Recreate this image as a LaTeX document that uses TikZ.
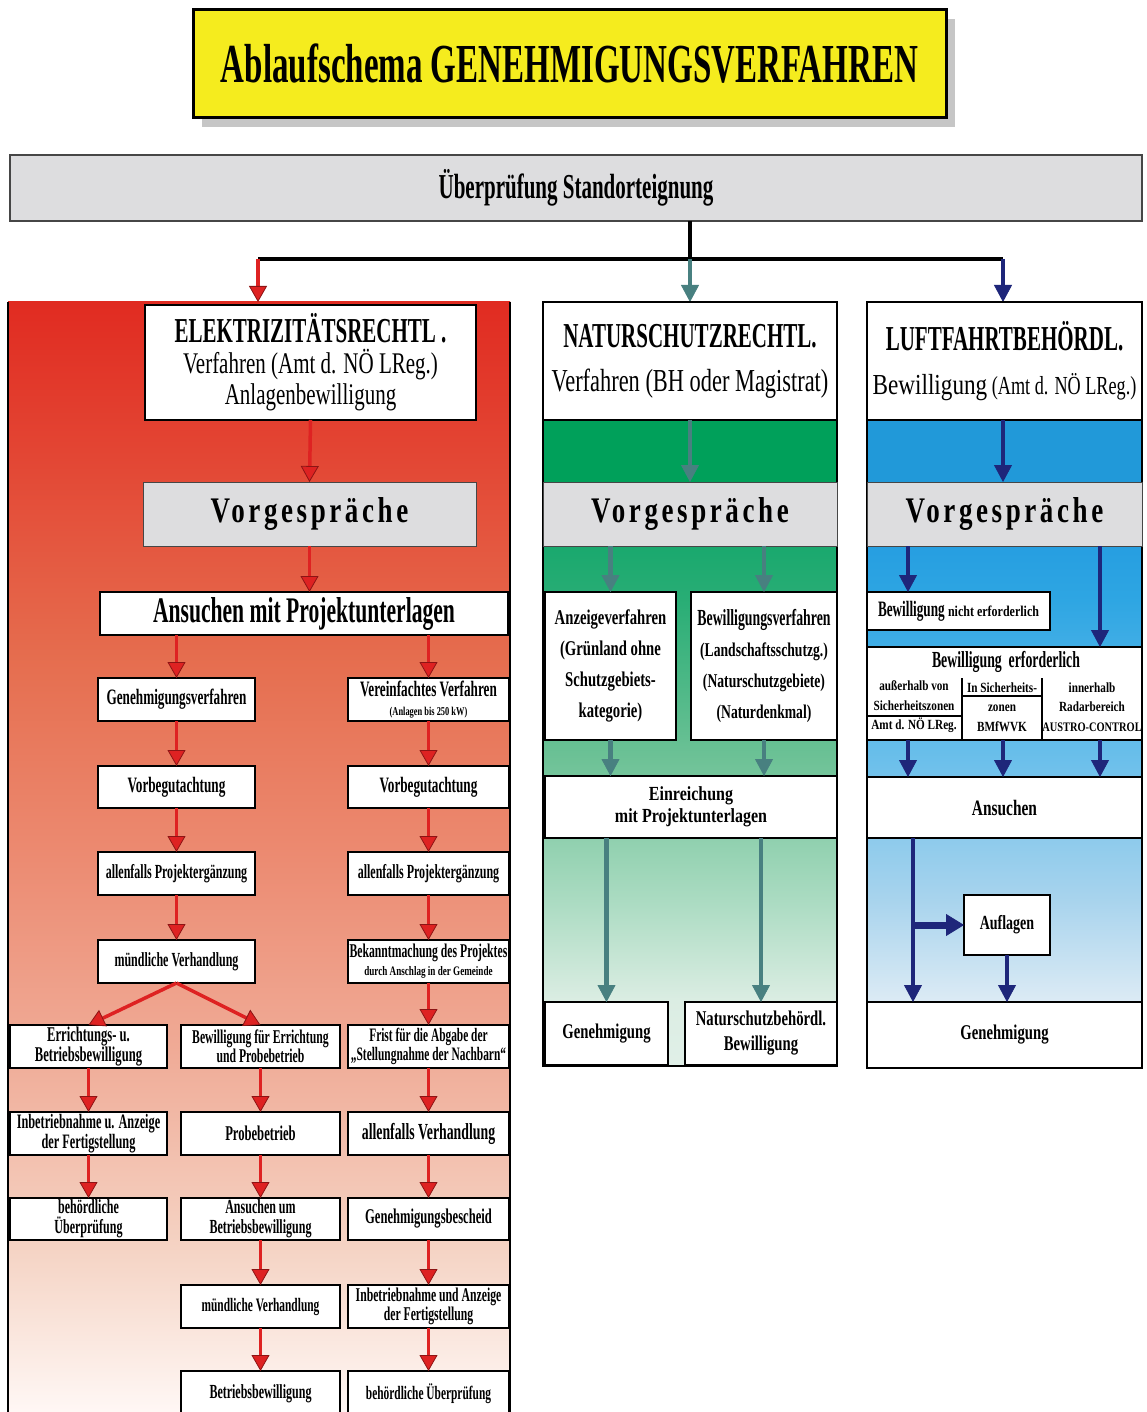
\documentclass[tikz,border=0pt]{standalone}
\usepackage{fontspec}
\setmainfont{Liberation Serif}[FakeStretch=0.6]
\newfontfamily\mf{Liberation Serif}[FakeStretch=0.7]
\newfontfamily\wf{Liberation Serif}[FakeStretch=0.8]
\newfontfamily\vfont{Liberation Serif}[FakeStretch=0.75,LetterSpace=10]
\usetikzlibrary{arrows.meta}
\definecolor{ttl}{RGB}{245,236,30}
\definecolor{graybox}{RGB}{221,221,223}
\definecolor{arrR}{RGB}{222,34,34}
\definecolor{arrRd}{RGB}{140,20,20}
\definecolor{arrT}{RGB}{72,128,128}
\definecolor{arrB}{RGB}{30,38,122}
\definecolor{grband}{RGB}{0,160,90}
\definecolor{blband}{RGB}{33,153,217}
\pgfdeclareverticalshading{redsh}{100bp}{rgb(0bp)=(1,0.97,0.96); rgb(25bp)=(1,0.97,0.96); rgb(32.3bp)=(0.96,0.83,0.77); rgb(41.3bp)=(0.94,0.67,0.59); rgb(50.3bp)=(0.925,0.54,0.44); rgb(58.85bp)=(0.9,0.43,0.31); rgb(68.35bp)=(0.89,0.27,0.2); rgb(75bp)=(0.88,0.17,0.13); rgb(100bp)=(0.88,0.17,0.13)}
\pgfdeclareverticalshading{grsh}{100bp}{rgb(0bp)=(0.88,0.94,0.91); rgb(25bp)=(0.88,0.94,0.91); rgb(31.25bp)=(0.86,0.93,0.89); rgb(40.9bp)=(0.67,0.86,0.76); rgb(54.4bp)=(0.43,0.76,0.59); rgb(69.8bp)=(0.16,0.68,0.46); rgb(75bp)=(0.1,0.66,0.43); rgb(100bp)=(0.1,0.66,0.43)}
\pgfdeclareverticalshading{blsh}{100bp}{rgb(0bp)=(0.9,0.94,0.97); rgb(25bp)=(0.9,0.94,0.97); rgb(31.5bp)=(0.86,0.92,0.96); rgb(41.1bp)=(0.66,0.83,0.93); rgb(54.5bp)=(0.42,0.75,0.92); rgb(69.85bp)=(0.18,0.65,0.89); rgb(75bp)=(0.15,0.62,0.88); rgb(100bp)=(0.15,0.62,0.88)}
\newcommand\fs[2]{\fontsize{#1}{#2}\selectfont}
\newcommand\bx[7][box]{\node[#1,minimum width={#5-#3},minimum height={#6-#4}] (#2) at ({(#3+#5)/2},{(#4+#6)/2}) {#7};}
\tikzset{
  box/.style={draw=black,line width=2.5pt,fill=white,inner sep=0pt,outer sep=0pt,align=center,font=\bfseries},
  sbx/.style={box,line width=2pt},
  tbox/.style={box,line width=3pt,fill=ttl},
  sbox/.style={box,line width=1.5pt,draw=gray!55!black,fill=graybox},
  gbox/.style={box,line width=1pt,draw=gray!55!black,fill=graybox,font=\vfont\bfseries\fs{36}{40}},
  rar/.style={draw=arrR,line width=3.5pt,-{Triangle[width=18pt,length=16pt,fill=arrR,color=arrRd,line width=0.8pt]}},
  tar/.style={draw=arrT,line width=4.5pt,-{Triangle[width=18pt,length=17pt,fill=arrT,line width=0.8pt]}},
  bar/.style={draw=arrB,line width=4.5pt,-{Triangle[width=18pt,length=17pt,fill=arrB,line width=0.8pt]}},
  barb/.style={draw=arrB,line width=7pt,-{Triangle[width=22pt,length=18pt,fill=arrB,line width=0.8pt]}},
  sub/.style={inner sep=0pt,align=center,font=\wf\bfseries\fs{14}{19.5}},
}
\begin{document}
\begin{tikzpicture}[x=1pt,y=-1pt]
\useasboundingbox (0,0) rectangle (1147,1412);
\fill[white] (0,0) rectangle (1147,1412);
% title
\fill[gray!45] (202,19) rectangle (955,127);
\bx[tbox,font=\bfseries\fs{55}{60}]{title}{193}{10}{946}{118}{Ablaufschema GENEHMIGUNGSVERFAHREN}
\bx[sbox,font=\bfseries\fs{35}{40}]{std}{10}{155}{1142}{221}{Überprüfung Standorteignung}
% backgrounds
\fill[shading=redsh] (8,302) rectangle (510,1412);
\draw[line width=1.5pt] (8,302) -- (8,1412);
\draw[line width=1.5pt] (510,302) -- (510,1412);
\fill[grband] (543,420) rectangle (837,482);
\fill[shading=grsh] (543,546) rectangle (837,1066);
\draw[line width=1.5pt] (543,302) rectangle (837,1066);
\fill[blband] (867,420) rectangle (1142,482);
\fill[shading=blsh] (867,546) rectangle (1142,1068);
\draw[line width=1.5pt] (867,302) rectangle (1142,1068);
% top connectors
\coordinate (jc) at (690,259);
\coordinate (jl) at (258,259);
\coordinate (jr) at (1003,259);
\coordinate (tl) at (258,302);
\coordinate (tm) at (690,302);
\coordinate (tr) at (1003,302);
\draw[line width=4pt] (std.south -| jc) -- (jc);
\draw[line width=4pt] (jl) -- (jr);
\draw[rar] (jl) -- (tl);
\draw[tar] (jc) -- (tm);
\draw[bar] (jr) -- (tr);
% ---------------- left column
\bx[box,font=\mf\mdseries\fs{30}{31}]{elek}{145}{305}{476}{420}{{\rmfamily\bfseries\fs{35}{31}ELEKTRIZITÄTSRECHTL .}\\Verfahren (Amt d. NÖ LReg.)\\Anlagenbewilligung}
\bx[gbox]{vg1}{143}{482}{476}{546}{Vorgespräche}
\bx[box,font=\bfseries\fs{36}{38}]{ans1}{100}{592}{508}{635}{Ansuchen mit Projektunterlagen}
\bx[sbx,font=\bfseries\fs{22}{24}]{gv}{98}{678}{255}{721}{Genehmigungsverfahren}
\bx[sbx,font=\bfseries\fs{22}{24}]{vb1}{98}{766}{255}{808}{Vorbegutachtung}
\bx[sbx,font=\bfseries\fs{20}{22}]{pe1}{98}{852}{255}{895}{allenfalls Projektergänzung}
\bx[sbx,font=\bfseries\fs{20}{22}]{mv1}{98}{940}{255}{983}{mündliche Verhandlung}
\bx[sbx,font=\bfseries\fs{22}{19}]{vv}{348}{678}{509}{721}{Vereinfachtes Verfahren\\{\mf\fs{12}{12}(Anlagen bis 250 kW)}}
\bx[sbx,font=\bfseries\fs{22}{24}]{vb2}{348}{766}{509}{808}{Vorbegutachtung}
\bx[sbx,font=\bfseries\fs{20}{22}]{pe2}{348}{852}{509}{895}{allenfalls Projektergänzung}
\bx[sbx,font=\bfseries\fs{19.5}{18}]{bk}{348}{940}{509}{983}{Bekanntmachung des Projektes\\{\mf\fs{13}{15}durch Anschlag in der Gemeinde}}
\bx[sbx,font=\bfseries\fs{19}{19}]{fr}{348}{1025}{509}{1068}{Frist für die Abgabe der\\„Stellungnahme der Nachbarn“}
\bx[sbx,font=\bfseries\fs{23}{24}]{av}{348}{1112}{509}{1155}{allenfalls Verhandlung}
\bx[sbx,font=\bfseries\fs{21}{22}]{gb}{348}{1198}{509}{1240}{Genehmigungsbescheid}
\bx[sbx,font=\bfseries\fs{19.5}{19}]{inb}{348}{1285}{509}{1328}{Inbetriebnahme und Anzeige\\der Fertigstellung}
\bx[sbx,font=\bfseries\fs{19}{20}]{bu2}{348}{1371}{509}{1416}{behördliche Überprüfung}
\bx[sbx,font=\bfseries\fs{21}{20}]{ebw}{10}{1025}{167}{1068}{Errichtungs- u.\\Betriebsbewilligung}
\bx[sbx,font=\bfseries\fs{20.5}{20}]{ina}{10}{1112}{167}{1155}{Inbetriebnahme u. Anzeige\\der Fertigstellung}
\bx[sbx,font=\bfseries\fs{20}{20}]{bu1}{10}{1198}{167}{1240}{behördliche\\Überprüfung}
\bx[sbx,font=\bfseries\fs{19.5}{19}]{bew}{181}{1025}{340}{1068}{Bewilligung für Errichtung\\und Probebetrieb}
\bx[sbx,font=\bfseries\fs{21}{22}]{pb}{181}{1112}{340}{1155}{Probebetrieb}
\bx[sbx,font=\bfseries\fs{20}{20}]{asb}{181}{1198}{340}{1240}{Ansuchen um\\Betriebsbewilligung}
\bx[sbx,font=\bfseries\fs{19}{20}]{mv2}{181}{1285}{340}{1328}{mündliche Verhandlung}
\bx[sbx,font=\bfseries\fs{20}{22}]{bb}{181}{1371}{340}{1416}{Betriebsbewilligung}
\draw[rar] (elek.south) -- (vg1.north);
\draw[rar] (vg1.south) -- (ans1.north -| vg1);
\draw[rar] (ans1.south -| gv) -- (gv.north);
\draw[rar] (ans1.south -| vv) -- (vv.north);
\draw[rar] (gv) -- (vb1.north);
\draw[rar] (vb1.south) -- (pe1.north);
\draw[rar] (pe1.south) -- (mv1.north);
\draw[rar] (mv1.south) -- (ebw.north);
\draw[rar] (mv1.south) -- (bew.north);
\draw[rar] (vv.south) -- (vb2.north);
\draw[rar] (vb2.south) -- (pe2.north);
\draw[rar] (pe2.south) -- (bk.north);
\draw[rar] (bk.south) -- (fr.north);
\draw[rar] (fr.south) -- (av.north);
\draw[rar] (av.south) -- (gb.north);
\draw[rar] (gb.south) -- (inb.north);
\draw[rar] (inb.south) -- (bu2.north);
\draw[rar] (ebw.south) -- (ina.north);
\draw[rar] (ina.south) -- (bu1.north);
\draw[rar] (bew.south) -- (pb.north);
\draw[rar] (pb.south) -- (asb.north);
\draw[rar] (asb.south) -- (mv2.north);
\draw[rar] (mv2.south) -- (bb.north);
% ---------------- middle column
\bx[box,font=\mf\mdseries\fs{32}{44}]{nat}{543}{302}{837}{420}{{\rmfamily\bfseries\fs{35}{44}NATURSCHUTZRECHTL.}\\Verfahren (BH oder Magistrat)}
\bx[gbox]{vg2}{543}{482}{837}{546}{Vorgespräche}
\bx[sbx,font=\mf\bfseries\fs{21}{31}]{anz}{545}{592}{676}{740}{Anzeigeverfahren\\(Grünland ohne\\Schutzgebiets-\\kategorie)}
\bx[sbx,font=\mf\bfseries\fs{19.5}{31}]{bwv}{691}{592}{837}{740}{{\rmfamily\fs{23}{31}Bewilligungsverfahren}\\(Landschaftsschutzg.)\\(Naturschutzgebiete)\\(Naturdenkmal)}
\bx[sbx,font=\wf\bfseries\fs{20}{22}]{ein}{545}{776}{837}{838}{Einreichung\\mit Projektunterlagen}
\bx[sbx,font=\mf\bfseries\fs{21}{24}]{gen2}{545}{1002}{668}{1065}{Genehmigung}
\bx[sbx,font=\mf\bfseries\fs{21}{25}]{nsb}{685}{1002}{837}{1065}{Naturschutzbehördl.\\Bewilligung}
\draw[tar] (nat.south) -- (vg2.north);
\draw[tar] (vg2.south -| anz) -- (anz.north);
\draw[tar] (vg2.south -| bwv) -- (bwv.north);
\draw[tar] (anz.south) -- (ein.north -| anz);
\draw[tar] (bwv.south) -- (ein.north -| bwv);
\draw[tar] (ein.south -| gen2) -- (gen2.north);
\draw[tar] (ein.south -| nsb) -- (nsb.north);
% ---------------- right column
\bx[box,font=\mf\mdseries\fs{26}{44}]{luft}{867}{302}{1142}{420}{{\rmfamily\bfseries\fs{35}{44}LUFTFAHRTBEHÖRDL.}\\{\wf\fs{29}{44}Bewilligung} (Amt d. NÖ LReg.)}
\bx[gbox]{vg3}{867}{482}{1142}{546}{Vorgespräche}
\bx[sbx,font=\bfseries\fs{22}{22}]{bne}{867}{592}{1050}{630}{Bewilligung {\wf\fs{15}{16}nicht erforderlich}}
\bx[sbx]{berf}{867}{647}{1142}{740}{}
\node[font=\bfseries\fs{23}{24},inner sep=0pt] (berft) at (1006,662) {Bewilligung\ \ erforderlich};
\node[sub] (bs1) at (914,707) {außerhalb von\\Sicherheitszonen\\Amt d. NÖ LReg.};
\node[sub] (bs2) at (1002,707) {In Sicherheits-\\zonen\\BMfWVK};
\node[sub] (bs3) at (1092,707) {innerhalb\\Radarbereich\\{\fs{13}{14}AUSTRO-CONTROL}};
\draw[line width=1.5pt] (962,678) -- (962,740);
\draw[line width=1.5pt] (1042,678) -- (1042,740);
\draw[line width=1.2pt] (962,696) -- (1042,696);
\draw[line width=1.2pt] (867,716) -- (962,716);
\bx[sbx,font=\mf\bfseries\fs{22}{24}]{ans3}{867}{777}{1142}{838}{Ansuchen}
\bx[sbx,font=\mf\bfseries\fs{20}{22}]{aufl}{964}{895}{1050}{955}{Auflagen}
\bx[sbx,font=\mf\bfseries\fs{21}{24}]{gen3}{867}{1002}{1142}{1068}{Genehmigung}
\coordinate (rx1) at (908,0);
\coordinate (rx2) at (1003,0);
\coordinate (rx3) at (1100,0);
\coordinate (rx4) at (913,0);
\draw[bar] (luft.south -| rx2) -- (vg3.north -| rx2);
\draw[bar] (vg3.south -| rx1) -- (bne.north -| rx1);
\draw[bar] (vg3.south -| rx3) -- (berf.north -| rx3);
\draw[bar] (berf.south -| rx1) -- (ans3.north -| rx1);
\draw[bar] (berf.south -| rx2) -- (ans3.north -| rx2);
\draw[bar] (berf.south -| rx3) -- (ans3.north -| rx3);
\draw[bar] (ans3.south -| rx4) -- (gen3.north -| rx4);
\draw[barb] (aufl.west -| rx4) -- (aufl.west);
\draw[bar] (aufl.south) -- (gen3.north -| aufl);
\end{tikzpicture}
\end{document}
